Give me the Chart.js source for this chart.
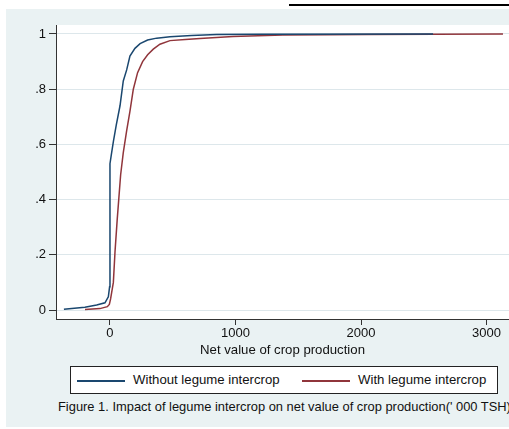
<!DOCTYPE html>
<html>
<head>
<meta charset="utf-8">
<script src="https://cdn.jsdelivr.net/npm/chart.js@4.4.1/dist/chart.umd.min.js"></script>
<style>
    html, body { margin: 0; padding: 0; background: #fff; overflow: hidden; }
    body { width: 509px; height: 429px; position: relative; font-family: "Liberation Sans", Arial, sans-serif; }
    .topline { position: absolute; left: 289px; top: 4px; width: 220px; height: 2px; background: #000; }
    .panel { position: absolute; left: 6px; top: 9px; width: 503px; height: 418px; background: #eaf2f3; }
    #chart-wrap { position: absolute; left: 0; top: 0; width: 509px; height: 360px; }
    .legend { position: absolute; left: 70px; top: 366px; width: 428px; height: 28px; box-sizing: border-box;
              border: 1px solid #222; background: #fff; }
    .legend .swatch { position: absolute; top: 13px; height: 1.5px; width: 48px; }
    .legend .label { position: absolute; top: 5px; font-size: 13.2px; color: #111; white-space: nowrap; }
    .caption { position: absolute; left: 58px; top: 399px; font-size: 12.9px; color: #111; white-space: nowrap; }
</style>
</head>
<body>
<div class="topline"></div>
<div class="panel"></div>
<div id="chart-wrap"><canvas id="cdf-chart" width="509" height="360"></canvas></div>
<div class="legend">
    <span class="swatch" style="left:6px; background:#1a476f"></span>
    <span class="label" style="left:62px">Without legume intercrop</span>
    <span class="swatch" style="left:231px; background:#90353b"></span>
    <span class="label" style="left:287px">With legume intercrop</span>
</div>
<div class="caption">Figure 1. Impact of legume intercrop on net value of crop production(' 000 TSH)</div>

<script>
// cumulative distribution
const withoutX = [-367, -200, -106, -40, -13, -3, 0, 10, 27, 50, 80, 106, 133, 159, 199, 240, 300, 372, 478, 650, 850, 1200, 2574];
const withoutY = [0.003, 0.01, 0.018, 0.026, 0.048, 0.084, 0.53, 0.56, 0.61, 0.67, 0.74, 0.83, 0.87, 0.92, 0.948, 0.965, 0.978, 0.985, 0.99, 0.995, 0.998, 0.999, 1];

const withX = [-199, -80, -21, -5, 5, 27, 40, 58, 85, 106, 133, 159, 186, 220, 260, 300, 345, 398, 478, 600, 717, 980, 1378, 2048, 3131];
const withY = [0.002, 0.005, 0.012, 0.02, 0.04, 0.1, 0.21, 0.33, 0.49, 0.57, 0.65, 0.72, 0.8, 0.86, 0.9, 0.925, 0.945, 0.963, 0.976, 0.98, 0.984, 0.991, 0.996, 0.998, 1];

const xTicks = [0, 1000, 2000, 3000];
const xTickLabels = ['0', '1000', '2000', '3000'];
const yTicks = [0, 0.2, 0.4, 0.6, 0.8, 1];
const yTickLabels = ['0', '.2', '.4', '.6', '.8', '1'];

const toPoints = (xs, ys) => xs.map((x, i) => ({ x: x, y: ys[i] }));

const plotBackground = {
    id: 'plotBackground',
    beforeDraw(chart) {
        const { ctx, chartArea } = chart;
        ctx.save();
        ctx.fillStyle = '#ffffff';
        ctx.fillRect(chartArea.left, chartArea.top, chartArea.right - chartArea.left, chartArea.bottom - chartArea.top);
        ctx.restore();
    }
};

const tickFont = { family: '"Liberation Sans", Arial, sans-serif', size: 13 };

new Chart(document.getElementById('cdf-chart'), {
    type: 'line',
    data: {
        datasets: [{
            label: 'Without legume intercrop',
            data: toPoints(withoutX, withoutY),
            borderColor: '#1a476f',
            borderWidth: 1.5,
            pointRadius: 0,
            tension: 0,
            fill: false
        }, {
            label: 'With legume intercrop',
            data: toPoints(withX, withY),
            borderColor: '#90353b',
            borderWidth: 1.5,
            pointRadius: 0,
            tension: 0,
            fill: false
        }]
    },
    options: {
        responsive: false,
        animation: false,
        layout: { padding: { top: 25, right: 0, left: 0, bottom: 0 } },
        plugins: {
            legend: { display: false },
            tooltip: { enabled: false }
        },
        scales: {
            x: {
                type: 'linear',
                min: -430,
                max: 3179,
                afterBuildTicks: scale => { scale.ticks = xTicks.map(v => ({ value: v })); },
                afterFit: scale => { scale.height = 41; },
                grid: { drawOnChartArea: false, tickLength: 6, tickColor: '#333' },
                border: { display: true, color: '#333', width: 1 },
                ticks: {
                    font: tickFont,
                    color: '#111',
                    padding: 1,
                    maxRotation: 0,
                    callback: (value) => {
                        const i = xTicks.indexOf(value);
                        return i >= 0 ? xTickLabels[i] : '';
                    }
                },
                title: {
                    display: true,
                    text: 'Net value of crop production',
                    font: { family: '"Liberation Sans", Arial, sans-serif', size: 13.2 },
                    color: '#111',
                    padding: { top: 0, bottom: 2 }
                }
            },
            y: {
                min: -0.0326,
                max: 1.0326,
                afterBuildTicks: scale => { scale.ticks = yTicks.map(v => ({ value: v })); },
                afterFit: scale => { scale.width = 56; },
                grid: { color: '#dde7eb', tickLength: 7, tickColor: '#333' },
                border: { display: true, color: '#333', width: 1 },
                ticks: {
                    font: tickFont,
                    color: '#111',
                    padding: 3,
                    callback: (value) => {
                        const i = yTicks.indexOf(value);
                        return i >= 0 ? yTickLabels[i] : '';
                    }
                }
            }
        }
    },
    plugins: [plotBackground]
});
</script>
</body>
</html>
